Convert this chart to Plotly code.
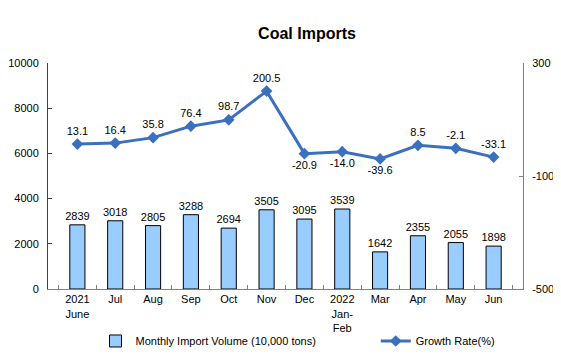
import plotly.graph_objects as go

categories = ["2021<br>June", "Jul", "Aug", "Sep", "Oct", "Nov", "Dec",
              "2022<br>Jan-<br>Feb", "Mar", "Apr", "May", "Jun"]
volume = [2839, 3018, 2805, 3288, 2694, 3505, 3095, 3539, 1642, 2355, 2055, 1898]
growth = [13.1, 16.4, 35.8, 76.4, 98.7, 200.5, -20.9, -14.0, -39.6, 8.5, -2.1, -33.1]
growth_text = ["13.1", "16.4", "35.8", "76.4", "98.7", "200.5", "-20.9", "-14.0",
               "-39.6", "8.5", "-2.1", "-33.1"]
growth_pos = ["top center"] * 6 + ["bottom center"] * 3 + ["top center"] * 3
left_ticks = [0, 2000, 4000, 6000, 8000, 10000]
right_ticks = [-500, -100, 300]

W, H = 553, 349  # page body has an 8px margin

fig = go.Figure()
fig.add_trace(go.Bar(
    x=categories, y=volume, name="Monthly Import Volume (10,000 tons)",
    marker=dict(color="#99CCFF", line=dict(color="black", width=1)),
    width=0.4, text=[str(v) for v in volume], textposition="outside",
    constraintext="none", legend="legend",
    textfont=dict(size=11, color="black"), cliponaxis=False,
))
fig.add_trace(go.Scatter(
    x=categories, y=growth, name="Growth Rate(%)", yaxis="y2",
    mode="lines+markers+text", legend="legend2",
    line=dict(color="#3A70BE", width=3),
    marker=dict(symbol="diamond", size=9, color="#3A70BE"),
    text=growth_text, textposition=growth_pos,
    textfont=dict(size=11, color="black"), cliponaxis=False,
))

legend_common = dict(orientation="h", yanchor="middle", y=-0.23, xanchor="left",
                     font=dict(size=11), itemwidth=30, bgcolor="rgba(0,0,0,0)")

fig.update_layout(
    width=W, height=H,
    margin=dict(l=40, r=38, t=55, b=68, autoexpand=False),
    paper_bgcolor="white", plot_bgcolor="white",
    font=dict(family="Arial, Liberation Sans, sans-serif", size=11, color="black"),
    title=dict(text="<b>Coal Imports</b>", x=(307 - 8) / W, xanchor="center",
               y=1 - 25 / H, yanchor="middle", font=dict(size=16)),
    showlegend=True,
    legend=dict(x=0.10, **legend_common),
    legend2=dict(x=0.69, **legend_common),
    xaxis=dict(showline=True, linecolor="#808080", linewidth=1, ticks="inside",
               tickson="boundaries", ticklen=4, tickcolor="#808080",
               showgrid=False, tickfont=dict(size=11), automargin=False),
    yaxis=dict(range=[0, 10000], tickvals=left_ticks,
               ticktext=[str(v) for v in left_ticks], showline=True,
               linecolor="#404040", ticks="inside", ticklen=4, tickcolor="#404040",
               showgrid=False, zeroline=False, tickfont=dict(size=11),
               automargin=False, ticklabelstandoff=6),
    yaxis2=dict(range=[-500, 300], tickvals=right_ticks,
                ticktext=[str(v) for v in right_ticks], overlaying="y",
                side="right", showline=True, linecolor="#808080", ticks="inside",
                ticklen=4, tickcolor="#808080", showgrid=False, zeroline=False,
                tickfont=dict(size=11), automargin=False, ticklabelstandoff=6),
)

fig.write_html("out.html")
